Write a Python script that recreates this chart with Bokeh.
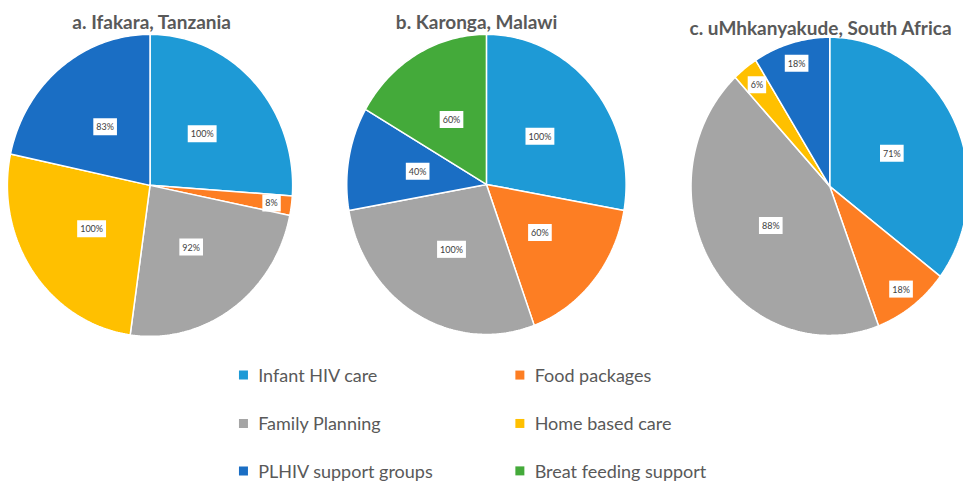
import numpy as np
from bokeh.plotting import figure
from bokeh.models import Range1d
from bokeh.core.properties import value
from bokeh.embed import file_html
from bokeh.resources import INLINE

categories = ["Infant HIV care", "Food packages", "Family Planning",
              "Home based care", "PLHIV support groups", "Breat feeding support"]
colors = ["#1E9AD6", "#FD7E23", "#A5A5A5", "#FFC000", "#1A6EC4", "#44AA3A"]

titles = ["a. Ifakara, Tanzania", "b. Karonga, Malawi", "c. uMhkanyakude, South Africa"]
ifakara = [100, 8, 92, 100, 83, 0]
karonga = [100, 60, 100, 0, 40, 60]
umhkanyakude = [71, 18, 88, 6, 18, 0]
series = [ifakara, karonga, umhkanyakude]

# layout (reference-image pixel coordinates)
centers = [(152, 191), (494, 190), (843, 192)]
radii = [(145, 156), (142, 155), (141, 154)]
title_pos = [(154, 22), (484, 22), (834, 28)]

W, H = 963, 482
p = figure(width=W, height=H, output_backend="svg", toolbar_location=None,
           x_range=Range1d(0, 979), y_range=Range1d(498, 0),
           min_border=0, outline_line_color=None)
p.axis.visible = False
p.grid.visible = False
p.background_fill_color = "white"

FONT = "Lato"
for vals, (cx, cy), (rx, ry), title, (tx, ty) in zip(series, centers, radii, titles, title_pos):
    vals = np.array(vals, dtype=float)
    ang = vals / vals.sum() * 2 * np.pi
    starts = np.concatenate([[0], np.cumsum(ang)[:-1]])
    xs, ys, fills = [], [], []
    lx, ly, lt = [], [], []
    for i, (a0, da) in enumerate(zip(starts, ang)):
        if vals[i] <= 0:
            continue
        t = np.linspace(a0, a0 + da, max(3, int(np.degrees(da)) + 2))
        xs.append(np.concatenate([[cx], cx + rx * np.sin(t)]))
        ys.append(np.concatenate([[cy], cy - ry * np.cos(t)]))
        fills.append(colors[i])
        mid = a0 + da / 2
        k = 0.5 if np.degrees(da) > 35 else 0.86
        lx.append(cx + k * rx * np.sin(mid))
        ly.append(cy - k * ry * np.cos(mid))
        lt.append(f"{int(vals[i])}%")
    p.patches(xs=xs, ys=ys, fill_color=fills, line_color="white", line_width=1.5)
    p.text(x=lx, y=ly, text=lt, text_font=value(FONT), text_font_size="9px",
           text_color="#404040", text_align="center", text_baseline="middle",
           background_fill_color="white", padding=3)
    p.text(x=[tx], y=[ty], text=[title], text_font=value(FONT), text_font_size="19px",
           text_font_style="bold", text_color="#595959",
           text_align="center", text_baseline="middle")

# legend
leg_x = [247, 528]
leg_y = [387, 437, 486]
sq_x, sq_y, sq_c, tx_x, tx_y = [], [], [], [], []
for i, cat in enumerate(categories):
    col, row = i % 2, i // 2
    sq_x.append(leg_x[col]); sq_y.append(leg_y[row]); sq_c.append(colors[i])
    tx_x.append(leg_x[col] + 15); tx_y.append(leg_y[row])
p.scatter(x=sq_x, y=sq_y, marker="square", size=9, fill_color=sq_c, line_color=None)
p.text(x=tx_x, y=tx_y, text=categories, text_font=value(FONT), text_font_size="18px",
       text_color="#595959", text_align="left", text_baseline="middle")

open("out.html", "w").write(file_html(p, INLINE))
